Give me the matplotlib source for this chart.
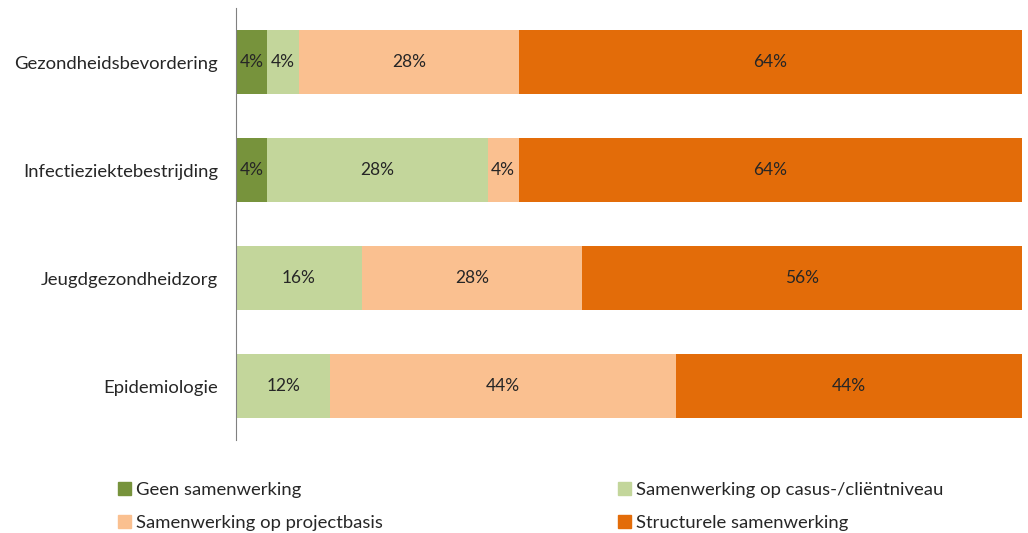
import matplotlib.pyplot as plt
from matplotlib.patches import Patch

plt.rcParams["font.family"] = ["Lato", "DejaVu Sans"]

categories = ["Gezondheidsbevordering", "Infectieziektebestrijding",
              "Jeugdgezondheidzorg", "Epidemiologie"]
series_names = ["Geen samenwerking", "Samenwerking op casus-/cliëntniveau",
                "Samenwerking op projectbasis", "Structurele samenwerking"]
geen = [4, 4, 0, 0]
casus = [4, 28, 16, 12]
project = [28, 4, 28, 44]
structureel = [64, 64, 56, 44]
colors = ["#77933C", "#C3D69B", "#FAC090", "#E36C09"]

fig = plt.figure(figsize=(10.28, 5.33), dpi=100)
ax = fig.add_axes([236 / 1028, 1 - 440 / 533, 786 / 1028, 432 / 533])

y = list(range(len(categories)))
left = [0] * len(categories)
for vals, col in zip([geen, casus, project, structureel], colors):
    ax.barh(y, vals, left=left, height=0.59, color=col)
    for i, v in enumerate(vals):
        if v > 0:
            ax.text(left[i] + v / 2, i, f"{v}%", ha="center", va="center",
                    fontsize=12.5, color="#262626")
    left = [a + b for a, b in zip(left, vals)]

ax.set_xlim(0, 100)
ax.set_ylim(3.5, -0.5)
ax.set_yticks(y)
ax.set_yticklabels(categories, fontsize=13.3, color="#262626")
ax.tick_params(axis="y", length=0, pad=13)
ax.set_xticks([])
for s in ["top", "right", "bottom"]:
    ax.spines[s].set_visible(False)
ax.spines["left"].set_color("#808080")

handles = [Patch(color=c) for c in colors]
order = [0, 2, 1, 3]
fig.legend([handles[i] for i in order], [series_names[i] for i in order],
           ncol=2, loc="upper left", bbox_to_anchor=(118 / 1028, 1 - 482 / 533),
           frameon=False, fontsize=13.3, handlelength=0.7, handleheight=0.7,
           handletextpad=0.3, columnspacing=12.7, labelspacing=0.9,
           borderpad=0, borderaxespad=0, labelcolor="#262626")

fig.savefig("out.png", dpi=100)
